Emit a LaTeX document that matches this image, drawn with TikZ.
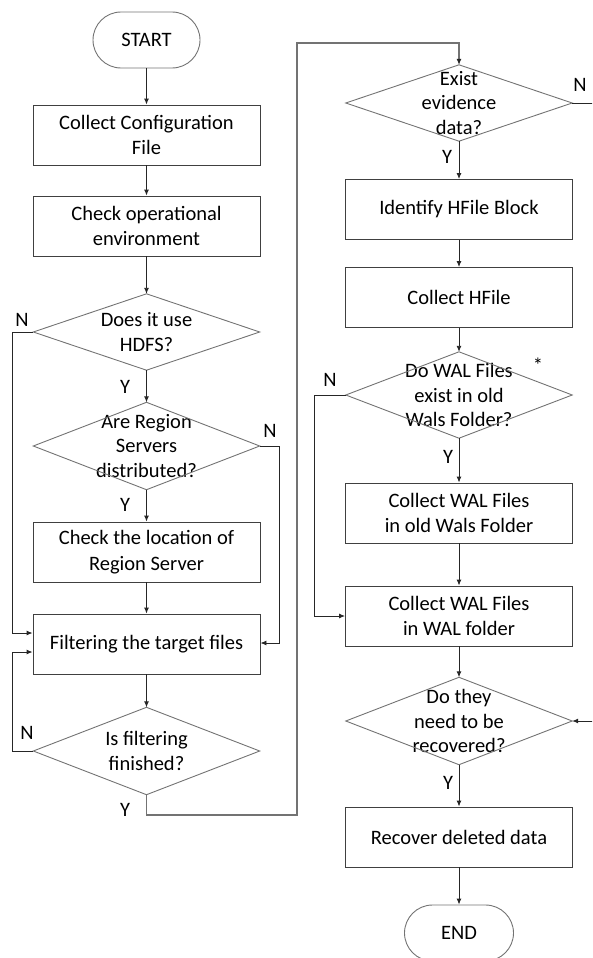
\documentclass[tikz,border=0pt]{standalone}
\usepackage{fontspec}
\setmainfont{Carlito}
\usetikzlibrary{arrows.meta}
\tikzset{
	txt/.style={font=\fontsize{20.5}{25.5}\selectfont, text=black},
	process/.style={txt, rectangle, draw=black!75, line width=0.9pt, minimum width=227pt, minimum height=60pt, inner sep=2pt, align=center},
	decision/.style={txt, rectangle, minimum width=226pt, minimum height=87pt, inner sep=0pt, align=center, font=\fontsize{20.5}{24.5}\selectfont},
	decborder/.style={draw=black!55, line width=0.9pt},
	terminal/.style={txt, rectangle, rounded corners=28pt, draw=black!55, line width=0.9pt, minimum width=107pt, minimum height=56pt},
	flow/.style={draw=black!85, line width=0.9pt, -{Latex[length=6pt,width=5pt]}},
	loop/.style={draw=black!55, line width=1.1pt},
	lbl/.style={txt, inner sep=0pt}
}
\begin{document}
\begin{tikzpicture}[x=1pt, y=-1pt]
	\useasboundingbox (0,0) rectangle (592,958);
	\clip (0,0) rectangle (592,958);
	
	\node[terminal] (start) at (146.5, 40) {START};
	\node[process]  (config) at (146.5, 135) {Collect Configuration\\File};
	\node[process]  (env) at (146.5, 226) {Check operational\\environment};
	\node[decision, minimum height=76pt] (hdfs) at (146.5, 332) {Does it use\\HDFS?};
	\node[decision] (dist) at (146.5, 446) {Are Region\\Servers\\distributed?};
	\node[process]  (locate) at (146.5, 552) {Check the location of\\Region Server};
	\node[process]  (filter) at (146.5, 644) {Filtering the target files};
	\node[decision] (filtdone) at (146.5, 751) {Is filtering\\finished?};
	
	\node[decision, minimum height=76pt] (evidence) at (459, 103) {Exist\\evidence\\data?};
	\node[process]  (hblock) at (459, 209.5) {Identify HFile Block};
	\node[process]  (hfile) at (459, 297.5) {Collect HFile};
	\node[decision, minimum height=86pt] (walold) at (459, 395) {Do WAL Files\\exist in old\\Wals Folder?};
	\node[process]  (colold) at (459, 513) {Collect WAL Files\\in old Wals Folder};
	\node[process]  (colwal) at (459, 616) {Collect WAL Files\\in WAL folder};
	\node[decision] (recov) at (459, 721) {Do they\\need to be\\recovered?};
	\node[process]  (recover) at (459, 837) {Recover deleted data};
	\node[terminal, minimum width=109pt] (end) at (459, 933) {END};
	
	\foreach \n in {hdfs, dist, filtdone, evidence, walold, recov}
		\draw[decborder] (\n.west) -- (\n.north) -- (\n.east) -- (\n.south) -- cycle;
	
	\coordinate (Yleft) at (297, 815);
	\coordinate (Ytop) at (297, 43);
	\coordinate (Nright) at (604, 103);
	
	\draw[flow] (start) -- (config);
	\draw[flow] (config) -- (env);
	\draw[flow] (env) -- (hdfs.north);
	\draw[flow] (hdfs.south) -- (dist.north);
	\draw[flow] (dist.south) -- (locate);
	\draw[flow] (locate) -- (filter);
	\draw[flow] (filter) -- (filtdone.north);
	\draw[flow] (hdfs.west) -- ++(-21,0) |- ([yshift=11pt]filter.west);
	\draw[flow] (dist.east) -- ++(20,0) |- ([yshift=1pt]filter.east);
	\draw[flow] (filtdone.west) -- ++(-21,0) |- ([yshift=-8pt]filter.west);
	
	\draw[loop] (filtdone.south) |- (Yleft) -- (Ytop) -| ([yshift=6pt]evidence.north);
	\draw[flow] ([yshift=6pt]evidence.north) -- (evidence.north);
	
	\draw[flow] (evidence.south) -- (hblock);
	\draw[flow] (hblock) -- (hfile);
	\draw[flow] (hfile) -- (walold.north);
	\draw[flow] (walold.south) -- (colold);
	\draw[flow] (colold) -- (colwal);
	\draw[flow] (walold.west) -- ++(-31,0) |- (colwal.west);
	\draw[flow] (colwal) -- (recov.north);
	\draw[flow] (evidence.east) -- (Nright) |- (recov.east);
	\draw[flow] (recov.south) -- (recover);
	\draw[flow] (recover) -- (end);
	
	\node[lbl] (nhdfs) at (22, 320) {N};
	\node[lbl] (yhdfs) at (125, 387) {Y};
	\node[lbl] (ndist) at (270, 431) {N};
	\node[lbl] (ydist) at (125, 505) {Y};
	\node[lbl] (nfilt) at (27, 733) {N};
	\node[lbl] (yfilt) at (125, 810) {Y};
	\node[lbl] (nevid) at (580, 85) {N};
	\node[lbl] (yevid) at (447, 157) {Y};
	\node[lbl] (nwal) at (330, 380) {N};
	\node[lbl] (ywal) at (448, 457) {Y};
	\node[lbl] (star) at (538, 365) {*};
	\node[lbl] (yrecov) at (448, 783) {Y};
\end{tikzpicture}
\end{document}
